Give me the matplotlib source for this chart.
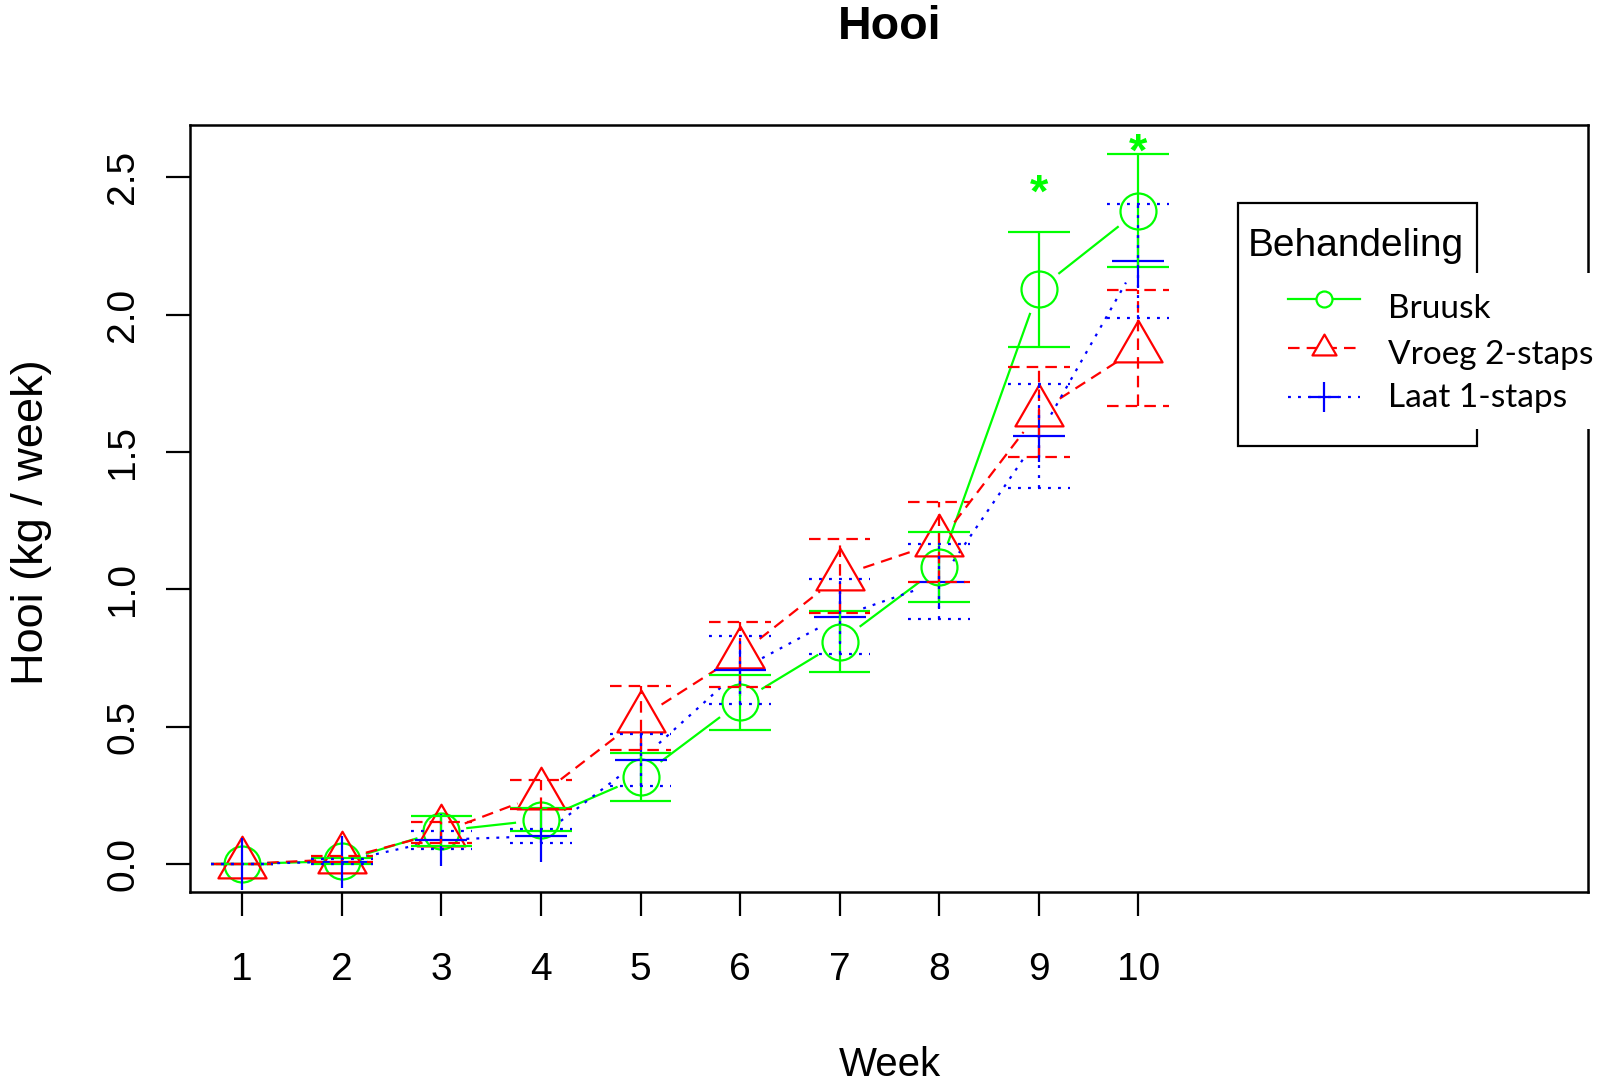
import numpy as np
import matplotlib
matplotlib.use("Agg")
import matplotlib.pyplot as plt
from matplotlib.path import Path
from matplotlib.lines import Line2D
from matplotlib.patches import Rectangle
from matplotlib.transforms import offset_copy

plt.rcParams['font.family'] = ['Liberation Sans', 'DejaVu Sans']

# ---------------- data ----------------
weeks = [1, 2, 3, 4, 5, 6, 7, 8, 9, 10]
bruusk_mean = [0.0, 0.010, 0.120, 0.160, 0.317, 0.589, 0.809, 1.080, 2.092, 2.378]
bruusk_se = [0.0, 0.012, 0.055, 0.042, 0.088, 0.100, 0.111, 0.127, 0.210, 0.206]
vroeg_mean = [0.0, 0.017, 0.115, 0.252, 0.531, 0.763, 1.049, 1.171, 1.645, 1.878]
vroeg_se = [0.0, 0.011, 0.038, 0.052, 0.117, 0.118, 0.134, 0.145, 0.165, 0.211]
laat_mean = [0.0, 0.008, 0.088, 0.101, 0.378, 0.706, 0.900, 1.027, 1.557, 2.196]
laat_se = [0.0, 0.010, 0.033, 0.025, 0.094, 0.125, 0.136, 0.136, 0.190, 0.207]
star_weeks = [9, 10]
star_y = [2.49, 2.64]
series_names = ["Bruusk", "Vroeg 2-staps", "Laat 1-staps"]
legend_title = "Behandeling"
x_ticks = weeks
y_ticks = [0.0, 0.5, 1.0, 1.5, 2.0, 2.5]
y_ticklabels = ["0.0", "0.5", "1.0", "1.5", "2.0", "2.5"]
title = "Hooi"
xlabel = "Week"
ylabel = "Hooi (kg / week)"

# ---------------- layout ----------------
W, H = 1606, 1082
fig = plt.figure(figsize=(W / 100, H / 100), dpi=100)
fx = lambda px: px / W
fy = lambda py: 1 - py / H

L, R, T, B = 190.5, 1588.3, 125.0, 892.3
ax = fig.add_axes([fx(L), fy(B), (R - L) / W, (B - T) / H])
ax.set_xlim(0.48, 14.52)
ax.set_ylim(-0.1035, 2.6905)

GREEN, RED, BLUE = "#00FF00", "#FF0000", "#0000FF"
LW = 1.6
DASH = (0, (5.2, 3.2))
DOT = (0, (1.3, 3.2))

# R-like triangle (centroid at data point)
tri = Path([(0, 1.555), (1.347, -0.778), (-1.347, -0.778), (0, 1.555)],
           [Path.MOVETO, Path.LINETO, Path.LINETO, Path.CLOSEPOLY])

series = [
    (bruusk_mean, bruusk_se, GREEN, '-', 'o', 25.9),
    (vroeg_mean, vroeg_se, RED, DASH, tri, 40.0),
    (laat_mean, laat_se, BLUE, DOT, '+', 37.4),
]

GAP = 25.0  # px gap around points (type = "b")


def gapped(x, y, **kw):
    pts = ax.transData.transform(np.column_stack([x, y]))
    inv = ax.transData.inverted()
    for i in range(len(pts) - 1):
        p0, p1 = pts[i], pts[i + 1]
        d = p1 - p0
        Ln = np.hypot(*d)
        if Ln <= 2 * GAP:
            continue
        u = d / Ln
        seg = inv.transform(np.array([p0 + u * GAP, p1 - u * GAP]))
        ax.plot(seg[:, 0], seg[:, 1], **kw)


for mean, se, col, ls, mk, ms in series:
    gapped(weeks, mean, color=col, lw=LW, linestyle=ls, solid_capstyle='butt',
           dash_capstyle='butt', zorder=2)
    ax.plot(weeks, mean, linestyle='none', marker=mk, ms=ms, mfc='none',
            mec=col, mew=LW, zorder=3)

CAP = 0.31
for mean, se, col, ls, mk, ms in series:
    m = np.array(mean)
    s = np.array(se)
    x = np.array(weeks, dtype=float)
    nz = s > 0
    ax.vlines(x[nz], (m - s)[nz], (m + s)[nz], colors=col, linestyles=[ls], lw=LW, zorder=4)
    ax.hlines(m + s, x - CAP, x + CAP, colors=col, linestyles=[ls], lw=LW, zorder=4)
    ax.hlines(m - s, x - CAP, x + CAP, colors=col, linestyles=[ls], lw=LW, zorder=4)

STAR_FS = 34
star_tr = offset_copy(ax.transData, fig=fig, y=-0.57 * STAR_FS, units='points')
for sx, sy in zip(star_weeks, star_y):
    ax.text(sx, sy, "*", color=GREEN, fontsize=STAR_FS, fontweight='bold',
            ha='center', va='baseline', transform=star_tr, zorder=5)

# axes styling
for sp in ax.spines.values():
    sp.set_linewidth(1.8)
ax.set_xticks(x_ticks)
ax.set_xticklabels([str(w) for w in x_ticks])
ax.set_yticks(y_ticks)
ax.set_yticklabels(y_ticklabels, rotation=90, va='center')
ax.tick_params(axis='both', direction='out', length=17.3, width=1.6, labelsize=28)
ax.tick_params(axis='x', pad=25.5)
ax.tick_params(axis='y', pad=18.3)

cx = fx((L + R) / 2)
fig.text(cx, fy(39.3), title, ha='center', va='baseline', fontsize=33.6, fontweight='bold')
fig.text(cx, fy(1075.5), xlabel, ha='center', va='baseline', fontsize=29)
fig.text(fx(32), fy(522), ylabel, ha='center', va='center', rotation=90, fontsize=32.5)

# ---------------- legend ----------------
box = Rectangle((fx(1238.3), fy(446.0)), (1476.7 - 1238.3) / W, (446.0 - 202.7) / H,
                transform=fig.transFigure, fill=False, ec='black', lw=1.6, zorder=10)
fig.add_artist(box)
occ = Rectangle((fx(1243), fy(429)), (W - 1243) / W, (429 - 273) / H,
                transform=fig.transFigure, fc='white', ec='none', zorder=11)
fig.add_artist(occ)
fig.text(fx(1248), fy(255.7), legend_title, ha='left', va='baseline', fontsize=28, zorder=12)

leg_line_y = [299, 348, 397]
leg_text_base = [318.3, 364.0, 407.3]
leg_ms = [11.5, 20.0, 21.0]
for (mean, se, col, ls, mk, ms), name, ly, tb, lms in zip(series, series_names, leg_line_y,
                                                          leg_text_base, leg_ms):
    fig.add_artist(Line2D([fx(1288), fx(1360)], [fy(ly), fy(ly)], transform=fig.transFigure,
                          color=col, lw=LW, linestyle=ls, zorder=12))
    fig.add_artist(Line2D([fx(1324)], [fy(ly)], transform=fig.transFigure, linestyle='none',
                          marker=mk, ms=lms, mfc='white', mec=col, mew=LW, zorder=13))
    fig.text(fx(1388.3), fy(tb), name, ha='left', va='baseline', fontsize=24,
             family=['Lato', 'DejaVu Sans'], zorder=12)

fig.savefig("out.png", dpi=100)
